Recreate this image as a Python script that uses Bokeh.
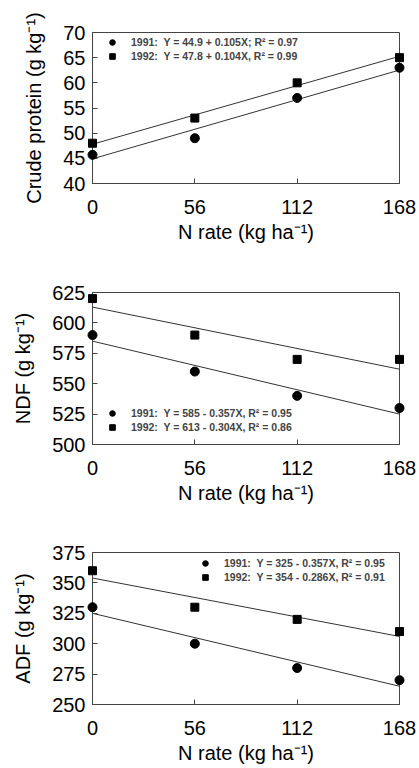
from bokeh.plotting import figure
from bokeh.models import Range1d, FixedTicker, Legend, LegendItem
from bokeh.layouts import column
from bokeh.embed import file_html
from bokeh.resources import INLINE

# ---- data ----
n_rate = [0, 56, 112, 168]
x_ticks = [0, 56, 112, 168]

cp_1991 = [45.7, 49, 57, 63]
cp_1992 = [48, 53, 60, 65]
cp_int = [44.9, 47.8]
cp_slope = [0.105, 0.104]
cp_labels = ["1991:  Y = 44.9 + 0.105X; R² = 0.97",
             "1992:  Y = 47.8 + 0.104X, R² = 0.99"]
cp_ticks = [40, 45, 50, 55, 60, 65, 70]

ndf_1991 = [590, 560, 540, 530]
ndf_1992 = [620, 590, 570, 570]
ndf_int = [585, 613]
ndf_slope = [-0.357, -0.304]
ndf_labels = ["1991:  Y = 585 - 0.357X, R² = 0.95",
              "1992:  Y = 613 - 0.304X, R² = 0.86"]
ndf_ticks = [500, 525, 550, 575, 600, 625]

adf_1991 = [330, 300, 280, 270]
adf_1992 = [360, 330, 320, 310]
adf_int = [325, 354]
adf_slope = [-0.357, -0.286]
adf_labels = ["1991:  Y = 325 - 0.357X, R² = 0.95",
              "1992:  Y = 354 - 0.286X, R² = 0.91"]
adf_ticks = [250, 275, 300, 325, 350, 375]

FONT = "Liberation Sans"
AX = "#444444"


def panel(ylabel, yticks, s91, s92, ints, slopes, labels, leg_xy, height, btop, bbot):
    p = figure(width=419, height=height, output_backend="svg", toolbar_location=None,
               x_range=Range1d(0, 168), y_range=Range1d(yticks[0], yticks[-1]),
               min_border_left=92, min_border_right=20,
               min_border_top=btop, min_border_bottom=bbot)
    p.grid.visible = False
    p.outline_line_color = AX
    p.outline_line_width = 1
    for ax in (p.xaxis[0], p.yaxis[0]):
        ax.axis_line_color = AX
        ax.major_tick_line_color = AX
        ax.major_tick_in = 5
        ax.major_tick_out = 0
        ax.minor_tick_line_color = None
        ax.major_label_text_font = FONT
        ax.major_label_text_font_size = "20px"
        ax.major_label_text_color = "black"
        ax.axis_label_text_font = FONT
        ax.axis_label_text_font_style = "normal"
        ax.axis_label_text_color = "black"
    p.xaxis.ticker = FixedTicker(ticks=x_ticks)
    p.yaxis.ticker = FixedTicker(ticks=yticks)
    p.xaxis.axis_label = "N rate (kg ha⁻¹)"
    p.xaxis.axis_label_text_font_size = "20px"
    p.xaxis.major_label_standoff = 16
    p.xaxis.axis_label_standoff = 4
    p.yaxis.axis_label = ylabel
    p.yaxis.axis_label_text_font_size = "20px"
    p.yaxis.major_label_standoff = 7
    p.yaxis.axis_label_standoff = 15

    xs = [n_rate[0], n_rate[-1]]
    for b0, b1 in zip(ints, slopes):
        p.line(xs, [b0 + b1 * x for x in xs], line_color="#333333", line_width=1)
    r1 = p.scatter(n_rate, s91, marker="circle", size=9, fill_color="black",
                   line_color="black", level="overlay")
    r2 = p.scatter(n_rate, s92, marker="square", size=8, fill_color="black",
                   line_color="black", level="overlay")
    leg = Legend(items=[LegendItem(label=labels[0], renderers=[r1]),
                        LegendItem(label=labels[1], renderers=[r2])],
                 location=leg_xy, orientation="vertical",
                 border_line_color=None, background_fill_alpha=0,
                 glyph_width=14, glyph_height=14, label_height=14,
                 label_standoff=12, spacing=0, padding=0, margin=0,
                 label_text_font=FONT, label_text_font_style="bold",
                 label_text_font_size="10.5px")
    p.add_layout(leg)
    return p


p1 = panel("Crude protein (g kg⁻¹)", cp_ticks, cp_1991, cp_1992, cp_int, cp_slope,
           cp_labels, (13, 120), 250, 32, 67)
p2 = panel("NDF (g kg⁻¹)", ndf_ticks, ndf_1991, ndf_1992, ndf_int, ndf_slope,
           ndf_labels, (13, 10), 260, 42, 66)
p3 = panel("ADF (g kg⁻¹)", adf_ticks, adf_1991, adf_1992, adf_int, adf_slope,
           adf_labels, (106, 120), 258, 42, 64)

layout = column(p1, p2, p3, spacing=0)
open("out.html", "w").write(file_html(layout, INLINE))
